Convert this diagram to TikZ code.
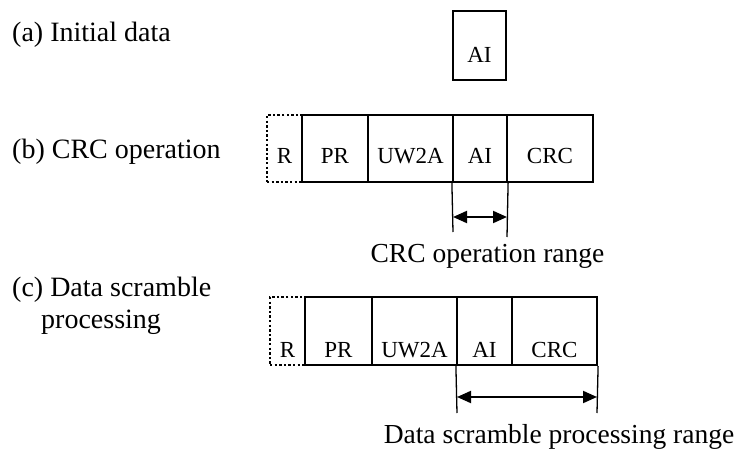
\documentclass[tikz,border=0pt]{standalone}
\usepackage{fontspec}
\setmainfont{Liberation Serif}
\usetikzlibrary{arrows.meta}
\begin{document}
\begin{tikzpicture}[x=1pt,y=-1pt,
  cell/.style={draw, line width=2.2pt, rectangle, inner sep=0pt, text depth=0pt,
    font=\fontsize{23}{26}\selectfont},
  dotcell/.style={cell, line width=2.4pt, dash pattern=on 2.4pt off 2.2pt},
  rowa/.style={minimum height=69pt, text height=33pt},
  rowb/.style={minimum height=67pt, text height=29pt},
  rowc/.style={minimum height=68pt, text height=52pt},
  lbl/.style={anchor=base west, inner sep=0pt, align=left, font=\fontsize{28}{32}\selectfont},
  rng/.style={anchor=base, inner sep=0pt, font=\fontsize{27.5}{32}\selectfont},
  ext/.style={line width=1.3pt},
  dim/.style={line width=2pt, {Triangle[length=14pt,width=12pt]}-{Triangle[length=14pt,width=12pt]}}
]
\useasboundingbox (0,0) rectangle (740,450);

% labels
\node[lbl] (la) at (12,41) {(a) Initial data};
\node[lbl] (lb) at (12,158) {(b) CRC operation};
\node[lbl] (lc) at (12,328) {(c) Data scramble\\\hspace*{29pt}processing};

% row a
\node[cell, rowa, minimum width=53pt] (AIa) at (479.5,45.5) {AI};

% row b
\node[dotcell, rowb, minimum width=35pt] (Rb) at (284.5,148.5) {R};
\node[cell, rowb, minimum width=66pt] (PRb) at (335,148.5) {PR};
\node[cell, rowb, minimum width=85pt] (UWb) at (410.5,148.5) {UW2A};
\node[cell, rowb, minimum width=54pt] (AIb) at (480,148.5) {AI};
\node[cell, rowb, minimum width=86pt] (CRCb) at (550,148.5) {CRC};

% row c
\node[dotcell, rowc, minimum width=35pt] (Rc) at (287.5,331) {R};
\node[cell, rowc, minimum width=67pt] (PRc) at (338.5,331) {PR};
\node[cell, rowc, minimum width=85pt] (UWc) at (414.5,331) {UW2A};
\node[cell, rowc, minimum width=55pt] (AIc) at (484.5,331) {AI};
\node[cell, rowc, minimum width=85pt] (CRCc) at (554.5,331) {CRC};

% dimension b
\coordinate (b1) at (453,232);
\coordinate (b2) at (507,237);
\coordinate (ba1) at (453,217);
\coordinate (ba2) at (507,217);
\draw[ext] (AIb.south west) -- (b1);
\draw[ext] (AIb.south east) -- (b2);
\draw[dim] (ba1) -- (ba2);
\node[rng] (rb) at (487.5,262) {CRC operation range};

% dimension c
\coordinate (c1) at (457,413);
\coordinate (c2) at (597,413);
\coordinate (ca1) at (457,397);
\coordinate (ca2) at (597,397);
\draw[ext] (AIc.south west) -- (c1);
\draw[ext] (CRCc.south east) -- (c2);
\draw[dim] (ca1) -- (ca2);
\node[rng] (rc) at (559,443) {Data scramble processing range};
\end{tikzpicture}
\end{document}
